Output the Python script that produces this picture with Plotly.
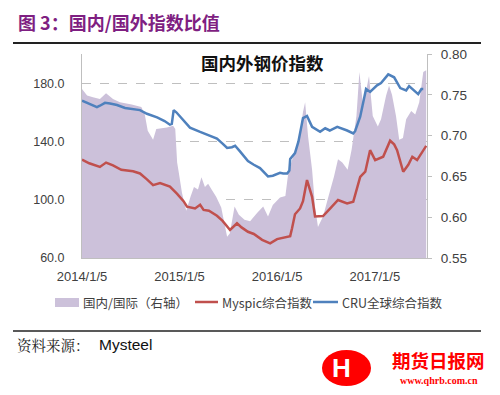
import plotly.graph_objects as go

# ---------------- data ----------------
ratio_dates = ["2014-01-05","2014-01-24","2014-02-15","2014-03-13","2014-04-05","2014-05-01","2014-05-27",
    "2014-07-10","2014-08-15","2014-08-28","2014-09-08","2014-09-28","2014-10-10","2014-11-19","2014-12-12",
    "2014-12-20","2014-12-27","2015-01-02","2015-01-14","2015-01-30","2015-02-15","2015-02-28","2015-03-15",
    "2015-03-28","2015-04-10","2015-04-22","2015-05-05","2015-05-22","2015-06-10","2015-07-02","2015-07-12",
    "2015-07-30","2015-08-15","2015-09-05","2015-09-26","2015-10-22","2015-11-14","2015-12-02","2015-12-20",
    "2016-01-16","2016-02-05","2016-02-15","2016-03-01","2016-03-20","2016-03-31","2016-04-11","2016-04-19",
    "2016-04-30","2016-05-15","2016-05-26","2016-06-06","2016-06-25","2016-07-15","2016-08-05","2016-08-20",
    "2016-09-05","2016-09-25","2016-10-10","2016-10-28","2016-11-08","2016-11-22","2016-12-14","2016-12-28",
    "2017-01-16","2017-01-28","2017-02-16","2017-02-27","2017-03-10","2017-03-25","2017-04-06","2017-04-20",
    "2017-05-02","2017-05-21","2017-06-05","2017-06-20","2017-07-05","2017-07-16"]
ratio_values = [0.757,0.749,0.747,0.745,0.752,0.745,0.741,
    0.738,0.735,0.726,0.706,0.695,0.708,0.710,0.712,
    0.708,0.667,0.655,0.630,0.608,0.625,0.637,0.634,
    0.649,0.637,0.641,0.634,0.625,0.612,0.576,0.580,
    0.613,0.603,0.597,0.595,0.605,0.613,0.601,0.615,
    0.624,0.626,0.652,0.670,0.687,0.704,0.729,0.741,
    0.699,0.658,0.613,0.588,0.601,0.625,0.650,0.671,
    0.667,0.658,0.683,0.724,0.778,0.736,0.773,0.724,
    0.711,0.720,0.749,0.761,0.750,0.724,0.695,0.697,
    0.720,0.730,0.726,0.741,0.778,0.780]

myspic_dates = ["2014-01-05","2014-02-01","2014-03-13","2014-04-05","2014-05-01","2014-06-01","2014-07-15",
    "2014-08-10","2014-09-05","2014-09-28","2014-10-24","2014-11-30","2014-12-27","2015-01-20","2015-02-02",
    "2015-03-04","2015-03-23","2015-04-05","2015-04-25","2015-05-25","2015-06-15","2015-07-02","2015-07-13",
    "2015-08-08","2015-08-25","2015-09-18","2015-10-10","2015-11-10","2015-12-10","2016-01-05","2016-01-28",
    "2016-02-23","2016-03-01","2016-03-12","2016-03-31","2016-04-11","2016-04-26","2016-05-15","2016-05-26",
    "2016-06-25","2016-07-22","2016-08-20","2016-09-23","2016-10-16","2016-11-11","2016-11-30","2016-12-18",
    "2017-01-06","2017-02-05","2017-03-03","2017-03-18","2017-03-29","2017-04-21","2017-05-10","2017-05-25",
    "2017-06-12","2017-07-16"]
myspic_values = [127.5,125.0,122.5,125.5,123.5,120.5,119.5,
    118.0,114.0,110.0,111.5,109.0,104.0,99.0,95.2,
    94.0,96.5,93.0,92.5,89.0,85.5,81.5,79.2,
    83.8,81.0,78.0,76.5,72.5,70.1,73.0,74.0,
    75.0,80.4,90.0,94.0,99.0,113.5,102.0,88.5,
    88.8,94.0,99.8,97.5,98.6,115.7,119.2,134.0,
    127.2,129.5,140.5,138.0,134.0,119.2,124.0,129.5,
    127.2,137.0]

cru_dates = ["2014-01-05","2014-01-24","2014-02-15","2014-03-02","2014-03-13","2014-04-01","2014-04-20",
    "2014-05-16","2014-06-15","2014-07-15","2014-08-10","2014-09-05","2014-10-13","2014-11-10","2014-11-30",
    "2014-12-07","2014-12-14","2014-12-24","2015-01-07","2015-02-13","2015-03-23","2015-04-15","2015-05-25",
    "2015-06-15","2015-07-02","2015-07-20","2015-08-01","2015-08-20","2015-09-18","2015-10-10","2015-11-02",
    "2015-12-02","2015-12-20","2016-01-16","2016-01-28","2016-02-12","2016-02-20","2016-02-23","2016-03-12",
    "2016-03-25","2016-04-11","2016-04-26","2016-05-15","2016-06-14","2016-07-03","2016-07-20","2016-08-17",
    "2016-09-23","2016-10-16","2016-10-23","2016-11-11","2016-12-03","2016-12-18","2017-01-13","2017-01-28",
    "2017-02-24","2017-03-18","2017-04-10","2017-05-02","2017-05-13","2017-06-01","2017-06-16","2017-06-28",
    "2017-07-05"]
cru_values = [168.0,166.5,164.5,163.5,164.5,166.5,166.0,
    165.0,163.0,162.0,161.5,159.0,156.5,154.0,151.5,
    152.0,161.5,160.0,157.0,149.5,146.5,145.0,142.0,
    138.5,135.5,136.0,137.0,133.0,126.5,124.0,121.7,
    116.0,116.5,118.5,118.0,118.0,120.0,128.0,132.0,
    140.0,156.0,157.5,150.0,146.6,149.0,147.5,150.0,
    147.5,145.5,147.0,157.0,176.0,174.0,178.5,180.0,
    186.0,184.0,176.6,175.0,178.0,175.0,172.5,176.0,
    176.0]

x_tick_vals = ["2014-01-05", "2015-01-05", "2016-01-05", "2017-01-05"]
x_tick_text = ["2014/1/5", "2015/1/5", "2016/1/5", "2017/1/5"]
left_ticks = [60, 100, 140, 180]
right_ticks = [0.55, 0.60, 0.65, 0.70, 0.75, 0.80]

names = ["国内/国际（右轴）", "Myspic综合指数", "CRU全球综合指数"]
colors = ["#CCC1DA", "#C0504D", "#4F81BD"]

# ---------------- figure ----------------
# the page body adds an 8px offset, so the figure is drawn 8px smaller and
# every pixel position below is given in window pixels and shifted by OFF
OFF = 8
W, H = 500 - OFF, 395 - OFF
L, R, T, B = 82 - OFF, 427 - OFF, 54 - OFF, 258 - OFF


def px(x):
    return (x - OFF - L) / (R - L)


def py(y):
    return (B - (y - OFF)) / (B - T)


fig = go.Figure()
fig.add_trace(go.Scatter(x=ratio_dates, y=ratio_values, mode="none", fill="tozeroy",
                         fillcolor=colors[0], name=names[0], yaxis="y", showlegend=False))
fig.add_trace(go.Scatter(x=myspic_dates, y=myspic_values, mode="lines",
                         line=dict(color=colors[1], width=2.5), name=names[1], yaxis="y2", showlegend=False))
fig.add_trace(go.Scatter(x=cru_dates, y=cru_values, mode="lines",
                         line=dict(color=colors[2], width=2.5), name=names[2], yaxis="y2", showlegend=False))

axis_gray = "#BFBFBF"
tick_font = dict(family="Liberation Sans, Arial, sans-serif", size=12.5, color="#404040")

fig.update_layout(
    width=W, height=H,
    margin=dict(l=L, r=W - R, t=T, b=H - B, pad=0),
    paper_bgcolor="white", plot_bgcolor="white",
    font=dict(family="Liberation Sans, Noto Sans CJK SC, sans-serif", color="#404040"),
    xaxis=dict(type="date", range=["2014-01-05", "2017-07-19"], tickvals=x_tick_vals, ticktext=x_tick_text,
               showgrid=False, showline=True, linecolor=axis_gray, linewidth=1, ticks="",
               tickfont=dict(family="Liberation Sans, Arial, sans-serif", size=13, color="#404040"),
               ticklabelstandoff=6, zeroline=False),
    yaxis=dict(range=[0.55, 0.80], tickvals=right_ticks, tickformat=".2f", side="right",
               showgrid=False, showline=True, linecolor=axis_gray, linewidth=1,
               ticks="outside", ticklen=4, tickcolor=axis_gray,
               tickfont=dict(family="Liberation Sans, Arial, sans-serif", size=13.5, color="#404040"),
               ticklabelstandoff=6, zeroline=False),
    yaxis2=dict(range=[60, 200], tickvals=left_ticks, tickformat=".1f", side="left", overlaying="y",
                showgrid=True, gridcolor=axis_gray, griddash="dash", gridwidth=1,
                showline=True, linecolor=axis_gray, linewidth=1, ticks="",
                tickfont=tick_font, ticklabelstandoff=14, zeroline=False),
)

shapes = []
annotations = []

# header
annotations.append(dict(x=px(16), y=py(22), xref="paper", yref="paper", xanchor="left", yanchor="middle",
                        text="<b>图 3：国内/国外指数比值</b>", showarrow=False,
                        font=dict(family="Noto Sans CJK SC", size=18, color="#7F1F82")))
shapes.append(dict(type="line", xref="paper", yref="paper", x0=px(13), x1=px(481), y0=py(43), y1=py(43),
                   line=dict(color="#222222", width=2)))
# chart title
annotations.append(dict(x=px(262), y=py(63), xref="paper", yref="paper", xanchor="center", yanchor="middle",
                        text="<b>国内外钢价指数</b>", showarrow=False,
                        font=dict(family="Noto Sans CJK SC", size=17.5, color="#111111")))

# legend
leg_y = 302
shapes.append(dict(type="rect", xref="paper", yref="paper", x0=px(55), x1=px(79), y0=py(298), y1=py(307),
                   fillcolor=colors[0], line=dict(width=0)))
shapes.append(dict(type="line", xref="paper", yref="paper", x0=px(195), x1=px(218), y0=py(leg_y), y1=py(leg_y),
                   line=dict(color=colors[1], width=2.5)))
shapes.append(dict(type="line", xref="paper", yref="paper", x0=px(313), x1=px(338), y0=py(leg_y), y1=py(leg_y),
                   line=dict(color=colors[2], width=2.5)))
for xx, nm in zip([81, 220, 340], names):
    annotations.append(dict(x=px(xx), y=py(leg_y), xref="paper", yref="paper", xanchor="left", yanchor="middle",
                            text=nm, showarrow=False,
                            font=dict(family="Noto Sans CJK SC", size=12.5, color="#404040")))

# footer
shapes.append(dict(type="line", xref="paper", yref="paper", x0=px(13), x1=px(481), y0=py(331), y1=py(331),
                   line=dict(color="#222222", width=1.5)))
annotations.append(dict(x=px(15), y=py(344), xref="paper", yref="paper", xanchor="left", yanchor="middle",
                        text="资料来源：", showarrow=False,
                        font=dict(family="Noto Serif CJK SC, Noto Sans CJK SC", size=14.5, color="#222222")))
annotations.append(dict(x=px(97), y=py(344), xref="paper", yref="paper", xanchor="left", yanchor="middle",
                        text="Mysteel", showarrow=False,
                        font=dict(family="Liberation Sans, Arial", size=15.5, color="#111111")))

# logo
shapes.append(dict(type="circle", xref="paper", yref="paper", x0=px(322), x1=px(371), y0=py(350), y1=py(386),
                   fillcolor="#FF0000", line=dict(width=0)))
annotations.append(dict(x=px(341), y=py(368), xref="paper", yref="paper", xanchor="center", yanchor="middle",
                        text="<b>H</b>", showarrow=False,
                        font=dict(family="Liberation Sans, Arial", size=26, color="white")))
annotations.append(dict(x=px(438), y=py(360), xref="paper", yref="paper", xanchor="center", yanchor="middle",
                        text="<b>期货日报网</b>", showarrow=False,
                        font=dict(family="Noto Sans CJK SC", size=18.5, color="#FF0000")))
annotations.append(dict(x=px(439), y=py(380), xref="paper", yref="paper", xanchor="center", yanchor="middle",
                        text="<b>www.qhrb.com.cn</b>", showarrow=False,
                        font=dict(family="Liberation Serif, serif", size=10, color="#FF0000")))

fig.update_layout(shapes=shapes, annotations=annotations)
fig.write_html("out.html")
